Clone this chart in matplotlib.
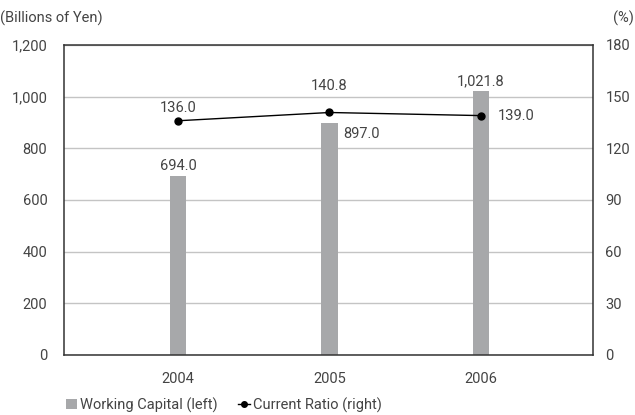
import matplotlib.pyplot as plt
from matplotlib.lines import Line2D
from matplotlib.patches import Patch

plt.rcParams['font.family'] = ['Roboto', 'DejaVu Sans']

years = ["2004", "2005", "2006"]
working_capital = [694.0, 897.0, 1021.8]
current_ratio = [136.0, 140.8, 139.0]
wc_labels = ["694.0", "897.0", "1,021.8"]
cr_labels = ["136.0", "140.8", "139.0"]
left_ticks = ["0", "200", "400", "600", "800", "1,000", "1,200"]

TXT = "#444444"
BAR = "#a7a8aa"
FS = 10.5

fig = plt.figure(figsize=(6.35, 4.15), dpi=100)
ax = fig.add_axes([0.1008, 0.1446, 0.833, 0.747])
x = list(range(len(years)))

ax.bar(x, working_capital, width=0.106, color=BAR, zorder=2)
ax.set_xlim(-0.752, 2.739)
ax.set_ylim(0, 1200)
ax.set_yticks(range(0, 1201, 200))
ax.set_yticklabels(left_ticks)
ax.set_xticks(x)
ax.set_xticklabels(years)
ax.yaxis.grid(True, color="#c4c4c4", linewidth=1, zorder=0)
ax.tick_params(length=0, labelsize=FS, colors=TXT)
ax.tick_params(axis="y", pad=12)
ax.tick_params(axis="x", pad=12)
for s in ax.spines.values():
    s.set_color("#333333")
    s.set_linewidth(1.1)

# bar labels
ax.annotate(wc_labels[0], (0, working_capital[0]), xytext=(0, 2),
            textcoords="offset points", ha="center", va="bottom",
            fontsize=FS, color=TXT)
ax.annotate(wc_labels[1], (1, working_capital[1]), xytext=(10, -3),
            textcoords="offset points", ha="left", va="top",
            fontsize=FS, color=TXT)
ax.annotate(wc_labels[2], (2, working_capital[2]), xytext=(0, 2),
            textcoords="offset points", ha="center", va="bottom",
            fontsize=FS, color=TXT)

ax2 = ax.twinx()
ax2.plot(x, current_ratio, color="black", linewidth=1, marker="o",
         markersize=5, zorder=3)
ax2.set_ylim(0, 180)
ax2.set_yticks(range(0, 181, 30))
ax2.tick_params(length=0, labelsize=FS, colors=TXT, pad=9)
for s in ax2.spines.values():
    s.set_visible(False)

ax2.annotate(cr_labels[0], (0, current_ratio[0]), xytext=(0, 4),
             textcoords="offset points", ha="center", va="bottom",
             fontsize=FS, color=TXT)
ax2.annotate(cr_labels[1], (1, current_ratio[1]), xytext=(0, 14),
             textcoords="offset points", ha="center", va="bottom",
             fontsize=FS, color=TXT)
ax2.annotate(cr_labels[2], (2, current_ratio[2]), xytext=(12, 0),
             textcoords="offset points", ha="left", va="center",
             fontsize=FS, color=TXT)

fig.text(0.0, 0.955, "(Billions of Yen)", fontsize=FS, color=TXT,
         ha="left", va="center")
fig.text(0.998, 0.955, "(%)", fontsize=FS, color=TXT,
         ha="right", va="center")

handles = [Patch(facecolor=BAR, edgecolor="none"),
           Line2D([], [], color="black", marker="o", markersize=4, linewidth=1)]
fig.legend(handles, ["Working Capital (left)", "Current Ratio (right)"],
           loc="center left", bbox_to_anchor=(0.092, 0.024), ncol=2,
           frameon=False, fontsize=FS, handlelength=0.8, handletextpad=0.2,
           columnspacing=1.4, labelcolor=TXT, borderpad=0)

fig.savefig("out.png", dpi=100)
